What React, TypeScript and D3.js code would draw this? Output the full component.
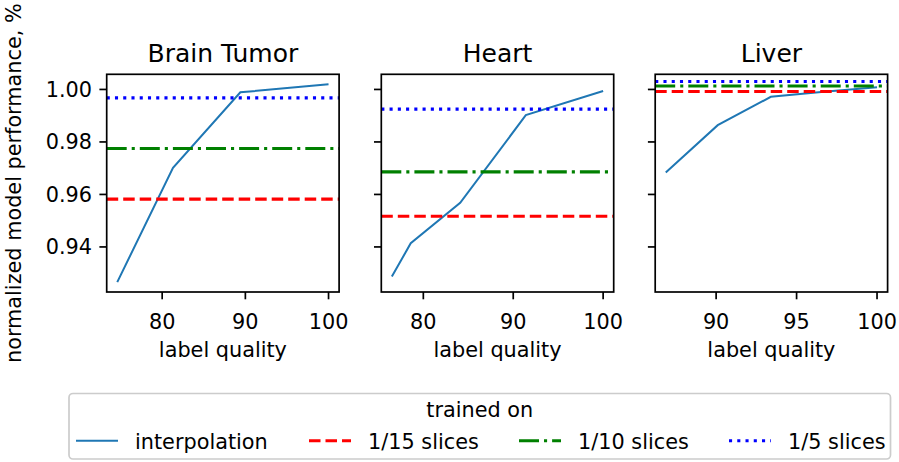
import React from "react";
import * as d3 from "d3";

const panelTitles = ["Brain Tumor", "Heart", "Liver"];
const brainX = [74.6, 81.3, 89.4, 100];
const brainY = [0.9266, 0.9701, 0.9989, 1.002];
const heartX = [76.5, 78.6, 84.1, 91.4, 100];
const heartY = [0.9287, 0.9414, 0.9568, 0.9902, 0.9994];
const liverX = [86.87, 90.1, 93.4, 96.7, 100];
const liverY = [0.9684, 0.9864, 0.9972, 0.9991, 1.0008];
// horizontal reference levels: 1/15, 1/10, 1/5 slices
const brainRef = [0.9582, 0.9775, 0.9968];
const heartRef = [0.9517, 0.9686, 0.9925];
const liverRef = [0.9992, 1.0013, 1.003];
const yTicks = [0.94, 0.96, 0.98, 1.0];
const brainXTicks = [80, 90, 100];
const heartXTicks = [80, 90, 100];
const liverXTicks = [90, 95, 100];
const legendLabels = ["interpolation", "1/15 slices", "1/10 slices", "1/5 slices"];

const W = 899;
const H = 462;
const FONT = "DejaVu Sans, sans-serif";
const FS = 20.8;
const TITLE_FS = 25;
const panelLeft = [106.7, 381.3, 655.2];
const panelW = 232.4;
const top = 74.3;
const bottom = 292;

const refStyles = [
  { color: "#ff0000", dash: "11.5,5" },
  { color: "#008000", dash: "20,5,3.1,5" },
  { color: "#0000ff", dash: "3.1,5.15" },
];
const lineColor = "#1f77b4";

function pad(ext: [number, number]): [number, number] {
  const r = ext[1] - ext[0];
  return [ext[0] - 0.05 * r, ext[1] + 0.05 * r];
}

export default function App() {
  const panels = [
    { title: panelTitles[0], x: brainX, y: brainY, ref: brainRef, ticks: brainXTicks },
    { title: panelTitles[1], x: heartX, y: heartY, ref: heartRef, ticks: heartXTicks },
    { title: panelTitles[2], x: liverX, y: liverY, ref: liverRef, ticks: liverXTicks },
  ];
  const allY = [...brainY, ...heartY, ...liverY];
  const yScale = d3
    .scaleLinear()
    .domain(pad(d3.extent(allY) as [number, number]))
    .range([bottom, top]);

  const legendHandles = [76, 309, 519, 729];
  const legendY = 440.7;

  return (
    <svg
      width={W}
      height={H}
      style={{ position: "absolute", left: 0, top: 0, background: "#fff" }}
      fontFamily={FONT}
    >
      <rect x={0} y={0} width={W} height={H} fill="#fff" />
      <text
        transform={`translate(21, ${(top + bottom) / 2}) rotate(-90)`}
        textAnchor="middle"
        fontSize={FS}
        fill="#000"
      >
        normalized model performance, %
      </text>
      {panels.map((p, i) => {
        const left = panelLeft[i];
        const right = left + panelW;
        const xScale = d3
          .scaleLinear()
          .domain(pad(d3.extent(p.x) as [number, number]))
          .range([left, right]);
        const line = d3
          .line<number>()
          .x((_, j) => xScale(p.x[j]))
          .y((d) => yScale(d));
        const clipId = `clip${i}`;
        return (
          <g key={i}>
            <defs>
              <clipPath id={clipId}>
                <rect x={left} y={top} width={panelW} height={bottom - top} />
              </clipPath>
            </defs>
            <text
              x={(left + right) / 2}
              y={61.5}
              textAnchor="middle"
              fontSize={TITLE_FS}
              fill="#000"
            >
              {p.title}
            </text>
            <g clipPath={`url(#${clipId})`}>
              <path d={line(p.y) || ""} fill="none" stroke={lineColor} strokeWidth={2} />
              {p.ref.map((v, k) => (
                <line
                  key={k}
                  x1={left}
                  x2={right}
                  y1={yScale(v)}
                  y2={yScale(v)}
                  stroke={refStyles[k].color}
                  strokeWidth={3.1}
                  strokeDasharray={refStyles[k].dash}
                />
              ))}
            </g>
            <rect
              x={left}
              y={top}
              width={panelW}
              height={bottom - top}
              fill="none"
              stroke="#000"
              strokeWidth={1.7}
            />
            {yTicks.map((t) => (
              <g key={t}>
                <line
                  x1={left - 7.3}
                  x2={left}
                  y1={yScale(t)}
                  y2={yScale(t)}
                  stroke="#000"
                  strokeWidth={1.7}
                />
                {i === 0 && (
                  <text
                    x={left - 14.6}
                    y={yScale(t)}
                    dy="0.36em"
                    textAnchor="end"
                    fontSize={FS}
                    fill="#000"
                  >
                    {t.toFixed(2)}
                  </text>
                )}
              </g>
            ))}
            {p.ticks.map((t) => (
              <g key={t}>
                <line
                  x1={xScale(t)}
                  x2={xScale(t)}
                  y1={bottom}
                  y2={bottom + 7.3}
                  stroke="#000"
                  strokeWidth={1.7}
                />
                <text
                  x={xScale(t)}
                  y={328.5}
                  textAnchor="middle"
                  fontSize={FS}
                  fill="#000"
                >
                  {t}
                </text>
              </g>
            ))}
            <text
              x={(left + right) / 2}
              y={356.5}
              textAnchor="middle"
              fontSize={FS}
              fill="#000"
            >
              label quality
            </text>
          </g>
        );
      })}
      <rect
        x={69}
        y={393.5}
        width={821.5}
        height={65.5}
        rx={4}
        fill="#fff"
        stroke="#cccccc"
        strokeWidth={1.7}
      />
      <text x={479.8} y={417} textAnchor="middle" fontSize={FS} fill="#000">
        trained on
      </text>
      {legendLabels.map((lab, k) => {
        const hx = legendHandles[k];
        const style = k === 0 ? { color: lineColor, dash: "none" } : refStyles[k - 1];
        return (
          <g key={lab}>
            <line
              x1={hx}
              x2={hx + 42}
              y1={legendY}
              y2={legendY}
              stroke={style.color}
              strokeWidth={k === 0 ? 2 : 3.1}
              strokeDasharray={style.dash}
            />
            <text x={hx + 42 + 17} y={448.5} fontSize={FS} fill="#000">
              {lab}
            </text>
          </g>
        );
      })}
    </svg>
  );
}
